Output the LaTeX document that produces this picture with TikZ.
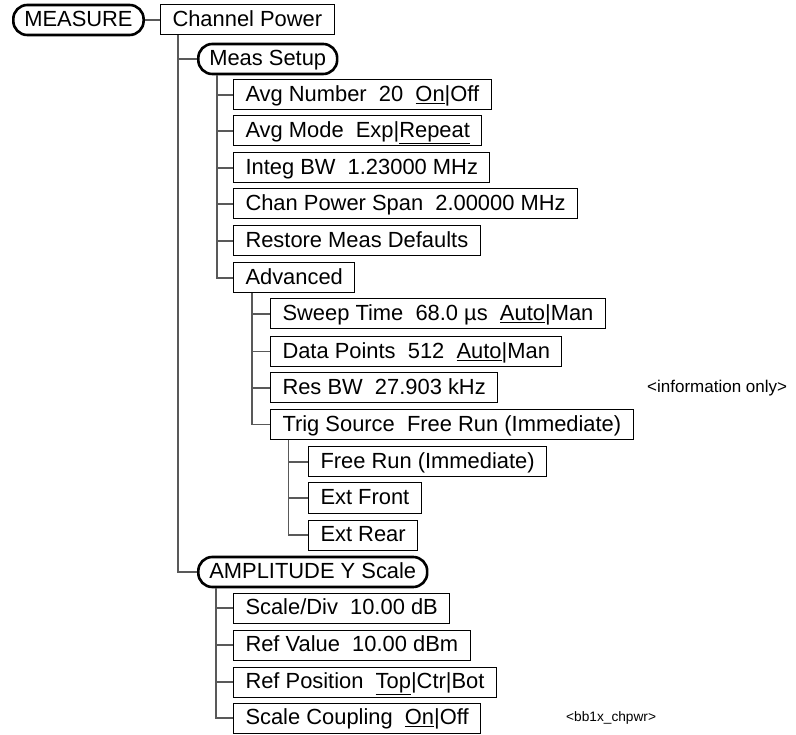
\documentclass[tikz,border=0pt]{standalone}
\usepackage{fontspec}
\setmainfont{Liberation Sans}
\tikzset{
  menubox/.style={draw=black, line width=1pt, anchor=west, inner xsep=12pt, inner ysep=4.75pt,
    text height=17pt, text depth=3.5pt, font=\fontsize{21.9}{25}\selectfont},
  keybox/.style={menubox, rounded corners=14pt, line width=2.6pt, inner xsep=11pt},
  conn/.style={draw=black!65, line width=1.3pt},
  note/.style={anchor=west, inner sep=0pt}
}
\begin{document}
\begin{tikzpicture}[x=1pt,y=-1pt]
\useasboundingbox[fill=white] (0,0) rectangle (796,735);
\node[keybox] (measure) at (12,20) {MEASURE};
\node[menubox] (chpower) at (160,20) {Channel Power};
\node[keybox] (meas) at (197,59) {Meas Setup};
\node[menubox] (avgnum) at (233,95) {Avg Number~~20~~\underline{On}|Off};
\node[menubox] (avgmode) at (233,131) {Avg Mode~~Exp|\underline{Repeat}};
\node[menubox] (integ) at (233,168) {Integ BW~~1.23000 MHz};
\node[menubox] (chanspan) at (233,204) {Chan Power Span~~2.00000 MHz};
\node[menubox] (restore) at (233,241) {Restore Meas Defaults};
\node[menubox] (advanced) at (233,278) {Advanced};
\node[menubox] (sweep) at (270,314) {Sweep Time~~68.0 µs~~\underline{Auto}|Man};
\node[menubox] (datapts) at (270,351.5) {Data Points~~512~~\underline{Auto}|Man};
\node[menubox] (resbw) at (270,388) {Res BW~~27.903 kHz};
\node[menubox] (trig) at (270,424.5) {Trig Source~~Free Run (Immediate)};
\node[menubox] (freerun) at (308,462) {Free Run (Immediate)};
\node[menubox] (extfront) at (308,498) {Ext Front};
\node[menubox] (extrear) at (308,535) {Ext Rear};
\node[keybox] (ampl) at (197,572) {AMPLITUDE Y Scale};
\node[menubox] (scalediv) at (233,608) {Scale/Div~~10.00 dB};
\node[menubox] (refval) at (233,645) {Ref Value~~10.00 dBm};
\node[menubox] (refpos) at (233,682) {Ref Position~~\underline{Top}|Ctr|Bot};
\node[menubox] (scalecoup) at (233,718) {Scale Coupling~~\underline{On}|Off};
\node[note, font=\fontsize{17}{20}\selectfont] (info) at (647,388) {<information only>};
\node[note, font=\fontsize{13.7}{16}\selectfont] (tag) at (566,718) {<bb1x\_chpwr>};
% connectors
\draw[conn] (measure.east) -- (chpower.west);
\foreach \c in {meas,ampl}
  \draw[conn] ([xshift=18pt]chpower.south west) |- (\c.west);
\foreach \c in {avgnum,avgmode,integ,chanspan,restore,advanced}
  \draw[conn] ([xshift=20pt]meas.south west) |- (\c.west);
\foreach \c in {sweep,datapts,resbw,trig}
  \draw[conn] ([xshift=19pt]advanced.south west) |- (\c.west);
\foreach \c in {freerun,extfront,extrear}
  \draw[conn] ([xshift=18.5pt]trig.south west) |- (\c.west);
\foreach \c in {scalediv,refval,refpos,scalecoup}
  \draw[conn] ([xshift=19pt]ampl.south west) |- (\c.west);
\end{tikzpicture}
\end{document}
